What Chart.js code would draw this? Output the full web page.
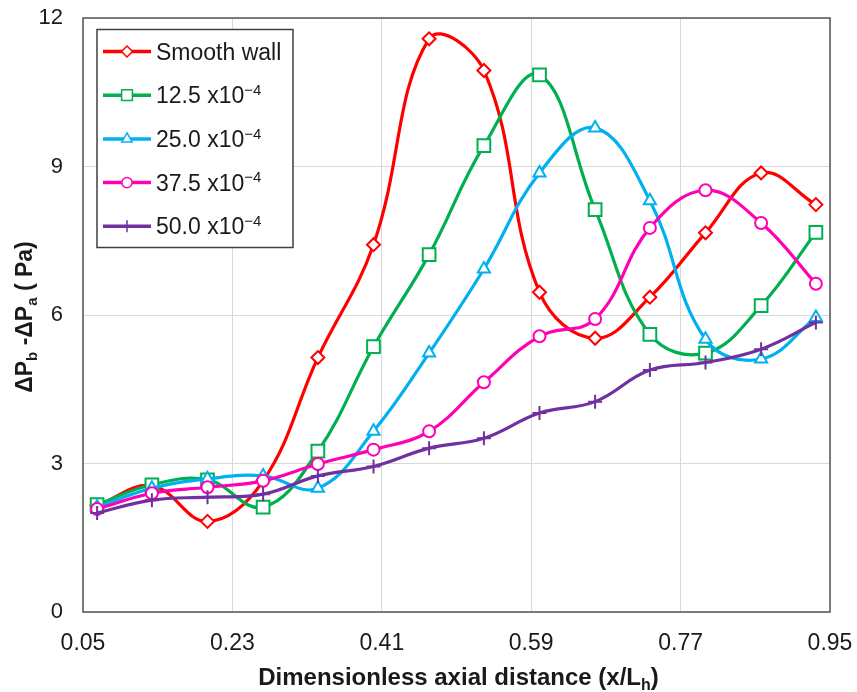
<!DOCTYPE html>
<html>
<head>
<meta charset="utf-8">
<script src="https://cdn.jsdelivr.net/npm/chart.js@4.4.0/dist/chart.umd.min.js"></script>
<style>
  html, body { margin: 0; padding: 0; background: #fff; }
  #graph-parent { width: 857px; height: 692px; }
</style>
</head>
<body>
<div id="graph-parent">
  <canvas id="graph" width="857" height="692" role="img" aria-label="Pressure difference along the axial distance"></canvas>
</div>
<script>
// axial stations (x/Lh)
const stations = [0.067, 0.133, 0.2, 0.267, 0.333, 0.4, 0.467, 0.533, 0.6, 0.667, 0.733, 0.8, 0.867, 0.933];

const smoothWall = [2.15, 2.55, 1.83, 2.65, 5.14, 7.42, 11.58, 10.94, 6.46, 5.53, 6.36, 7.66, 8.87, 8.23];
const rough125 = [2.17, 2.57, 2.67, 2.12, 3.25, 5.36, 7.22, 9.42, 10.85, 8.13, 5.61, 5.23, 6.19, 7.67];
const rough250 = [2.12, 2.5, 2.69, 2.75, 2.5, 3.65, 5.23, 6.93, 8.87, 9.78, 8.31, 5.51, 5.11, 5.95];
const rough375 = [2.08, 2.4, 2.52, 2.65, 2.99, 3.28, 3.65, 4.64, 5.57, 5.92, 7.76, 8.52, 7.86, 6.63];
const rough500 = [2.0, 2.26, 2.32, 2.38, 2.75, 2.94, 3.31, 3.51, 4.02, 4.25, 4.89, 5.04, 5.31, 5.85];

const seriesNames = ['Smooth wall', '12.5 x10^−4', '25.0 x10^−4', '37.5 x10^−4', '50.0 x10^−4'];
const seriesValues = [smoothWall, rough125, rough250, rough375, rough500];
const seriesColors = ['#ff0000', '#00b050', '#00b0f0', '#ff00b4', '#7030a0'];
const seriesMarkers = ['rectRot', 'rect', 'triangle', 'circle', 'cross'];
const markerSizes = [6.5, 9, 7, 6, 7];

const xTicks = [0.05, 0.23, 0.41, 0.59, 0.77, 0.95];
const yTicks = [0, 3, 6, 9, 12];

const xTitle = 'Dimensionless axial distance (x/L_h)';
const yTitle = 'ΔP_b -ΔP_a ( Pa)';

const TEXT = '#1a1a1a';

// draws a string where "_c" is a subscript and "^..." is a superscript tail
function drawRich(ctx, str, x, y, size, bold, align) {
  const w = bold ? 'bold ' : '';
  const parts = [];
  let i = 0, buf = '';
  while (i < str.length) {
    const ch = str[i];
    if (ch === '_' ) {
      if (buf) parts.push({ t: buf, k: 'n' });
      buf = '';
      parts.push({ t: str[i + 1], k: 'sub' });
      i += 2;
    } else if (ch === '^') {
      if (buf) parts.push({ t: buf, k: 'n' });
      buf = '';
      parts.push({ t: str.slice(i + 1), k: 'sup' });
      i = str.length;
    } else {
      buf += ch;
      i++;
    }
  }
  if (buf) parts.push({ t: buf, k: 'n' });

  const fontOf = p => p.k === 'n' ? w + size + 'px Arial' : w + Math.round(size * 0.65) + 'px Arial';
  let total = 0;
  parts.forEach(p => { ctx.font = fontOf(p); p.w = ctx.measureText(p.t).width; total += p.w; });
  let cx = align === 'center' ? x - total / 2 : x;
  ctx.textAlign = 'left';
  ctx.textBaseline = 'alphabetic';
  parts.forEach(p => {
    ctx.font = fontOf(p);
    let dy = 0;
    if (p.k === 'sub') dy = size * 0.22;
    if (p.k === 'sup') dy = -size * 0.36;
    ctx.fillText(p.t, cx, y + dy);
    cx += p.w;
  });
}

const frameAndText = {
  id: 'frameAndText',
  beforeDatasetsDraw(chart) {
    const { ctx, chartArea: a } = chart;
    ctx.save();
    ctx.strokeStyle = '#555555';
    ctx.lineWidth = 1.5;
    ctx.strokeRect(a.left, a.top, a.right - a.left, a.bottom - a.top);
    ctx.restore();
  },
  afterDraw(chart) {
    const { ctx, chartArea: a } = chart;
    ctx.save();
    ctx.fillStyle = TEXT;

    // axis titles
    drawRich(ctx, xTitle, (a.left + a.right) / 2 + 2, 685, 24, true, 'center');
    ctx.save();
    ctx.translate(32, (a.top + a.bottom) / 2 + 2);
    ctx.rotate(-Math.PI / 2);
    drawRich(ctx, yTitle, 0, 0, 23, true, 'center');
    ctx.restore();

    // legend box in the upper left of the plot
    const lx = 97, ly = 29.5, lw = 196, lh = 218;
    ctx.fillStyle = '#fff';
    ctx.fillRect(lx, ly, lw, lh);
    ctx.strokeStyle = '#404040';
    ctx.lineWidth = 1.5;
    ctx.strokeRect(lx, ly, lw, lh);

    chart.data.datasets.forEach((ds, i) => {
      const y = ly + 22 + i * 43.7;
      ctx.strokeStyle = ds.borderColor;
      ctx.lineWidth = 3.5;
      ctx.beginPath();
      ctx.moveTo(lx + 6, y);
      ctx.lineTo(lx + 54, y);
      ctx.stroke();
      ctx.fillStyle = '#fff';
      ctx.lineWidth = 1.5;
      Chart.helpers.drawPoint(ctx, {
        pointStyle: ds.pointStyle,
        radius: ds.pointRadius * 0.85,
        borderWidth: 1.5,
        rotation: 0
      }, lx + 30, y);
      ctx.fillStyle = TEXT;
      drawRich(ctx, seriesNames[i], lx + 59, y + 8, 23, false, 'left');
    });
    ctx.restore();
  }
};

const datasets = seriesNames.map((name, i) => ({
  label: name,
  data: stations.map((x, j) => ({ x: x, y: seriesValues[i][j] })),
  borderColor: seriesColors[i],
  backgroundColor: '#ffffff',
  borderWidth: 3.2,
  pointStyle: seriesMarkers[i],
  pointRadius: markerSizes[i],
  pointBorderWidth: 2,
  pointBackgroundColor: '#ffffff',
  pointBorderColor: seriesColors[i],
  tension: 0.4,
  order: seriesNames.length - i
}));

const ctx = document.getElementById('graph').getContext('2d');
const graph = new Chart(ctx, {
  type: 'line',
  data: { datasets: datasets },
  plugins: [frameAndText],
  options: {
    responsive: false,
    animation: false,
    layout: { padding: { top: 18, right: 27, left: 0, bottom: 0 } },
    plugins: {
      legend: { display: false },
      tooltip: { enabled: false }
    },
    scales: {
      x: {
        type: 'linear',
        min: 0.05,
        max: 0.95,
        afterBuildTicks: scale => { scale.ticks = xTicks.map(v => ({ value: v })); },
        afterFit: scale => {
          scale.height = 80;
          scale.paddingLeft = 0;
          scale.paddingRight = 0;
        },
        ticks: {
          color: TEXT,
          font: { family: 'Arial', size: 23 },
          padding: 18,
          maxRotation: 0,
          callback: v => v.toFixed(2)
        },
        grid: { color: '#d9d9d9', lineWidth: 1, drawTicks: false },
        border: { display: false }
      },
      y: {
        min: 0,
        max: 12,
        afterBuildTicks: scale => { scale.ticks = yTicks.map(v => ({ value: v })); },
        afterFit: scale => {
          scale.width = 83;
          scale.paddingTop = 0;
          scale.paddingBottom = 0;
        },
        ticks: {
          color: TEXT,
          font: { family: 'Arial', size: 22 },
          padding: 20
        },
        grid: { color: '#d9d9d9', lineWidth: 1, drawTicks: false },
        border: { display: false }
      }
    }
  }
});
</script>
</body>
</html>
